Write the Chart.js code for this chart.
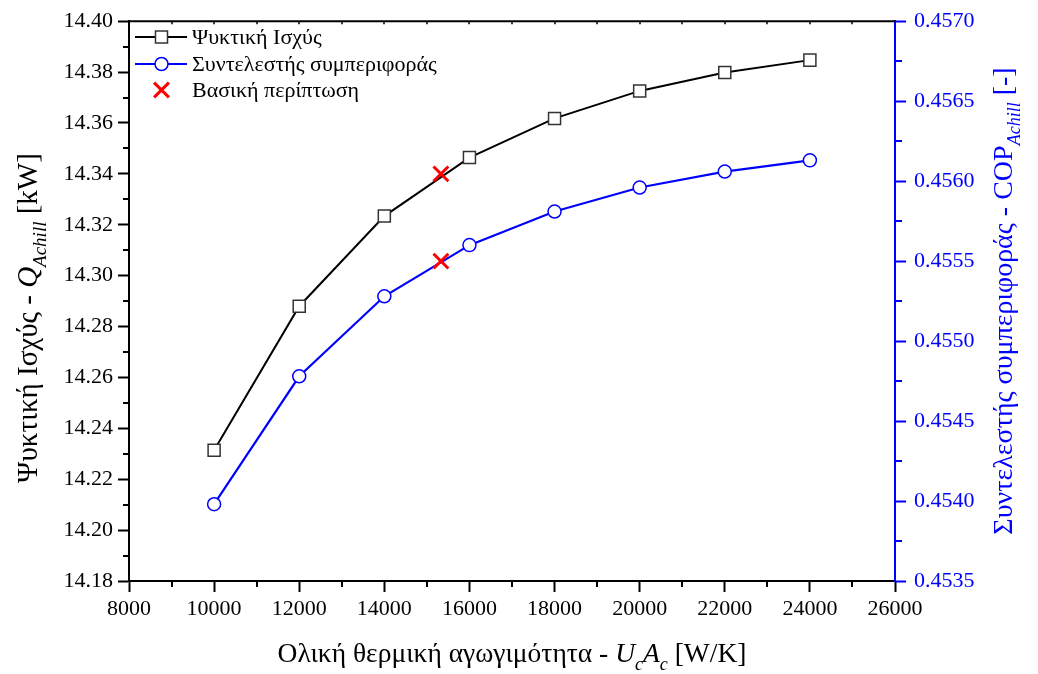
<!DOCTYPE html>
<html>
<head>
<meta charset="utf-8">
<script src="https://cdn.jsdelivr.net/npm/chart.js@4/dist/chart.umd.min.js"></script>
<style>
  html, body { margin: 0; padding: 0; background: #ffffff; }
  canvas { display: block; }
</style>
</head>
<body>
<canvas id="chart" width="1038" height="674"></canvas>
<script>
// Overall thermal conductance of the condenser, UcAc [W/K]
const uaValues = [10000, 12000, 14000, 16000, 18000, 20000, 22000, 24000];
// Cooling capacity Q_Achill [kW]
const coolingCapacity = [14.2314, 14.2880, 14.3234, 14.3464, 14.3618, 14.3726, 14.3798, 14.3847];
// Coefficient of performance COP_Achill [-]
const copValues = [0.45398, 0.45478, 0.45528, 0.45560, 0.45581, 0.45596, 0.45606, 0.45613];
// Base case
const baseCaseUA = [15330];
const baseCaseQ = [14.34];
const baseCaseCOP = [0.4555];

const seriesNames = ['Ψυκτική Ισχύς', 'Συντελεστής συμπεριφοράς', 'Βασική περίπτωση'];

// Axis ranges and tick steps
const xRange = { min: 8000, max: 26000, step: 2000 };
const qRange = { min: 14.18, max: 14.40, step: 0.02 };
const copRange = { min: 0.4535, max: 0.4570, step: 0.0005 };

const SERIF = '"Liberation Serif", "DejaVu Serif", serif';
const BLUE = '#0000ff';

const xTitle = [
  { t: 'Ολική θερμική αγωγιμότητα - ' },
  { t: 'U', i: true }, { t: 'c', i: true, sub: true },
  { t: 'A', i: true }, { t: 'c', i: true, sub: true },
  { t: ' [W/K]' }
];
const yTitle = [
  { t: 'Ψυκτική Ισχύς - ' },
  { t: 'Q', i: true }, { t: 'Achill', i: true, sub: true },
  { t: ' [kW]' }
];
const y1Title = [
  { t: 'Συντελεστής συμπεριφοράς - COP' },
  { t: 'Achill', i: true, sub: true },
  { t: ' [-]' }
];

function toPoints(xs, ys) {
  return xs.map((x, k) => ({ x: x, y: ys[k] }));
}

// Mixed-style text (italics, subscripts), centred on the current origin
function drawRich(ctx, segs, size) {
  const subSize = Math.round(size * 0.66);
  const fontOf = s => (s.i ? 'italic ' : '') + (s.sub ? subSize : size) + 'px ' + SERIF;
  let total = 0;
  segs.forEach(s => { ctx.font = fontOf(s); s.w = ctx.measureText(s.t).width; total += s.w; });
  let x = -total / 2;
  ctx.textAlign = 'left';
  ctx.textBaseline = 'alphabetic';
  segs.forEach(s => {
    ctx.font = fontOf(s);
    ctx.fillText(s.t, x, s.sub ? size * 0.3 : 0);
    x += s.w;
  });
}

function drawMarker(ctx, style, x, y, r, stroke, fill, lw) {
  ctx.save();
  ctx.lineWidth = lw;
  ctx.strokeStyle = stroke;
  ctx.fillStyle = fill;
  ctx.beginPath();
  if (style === 'rect') {
    const s = r * Math.SQRT1_2;
    ctx.rect(x - s, y - s, 2 * s, 2 * s);
    ctx.fill(); ctx.stroke();
  } else if (style === 'circle') {
    ctx.arc(x, y, r, 0, Math.PI * 2);
    ctx.fill(); ctx.stroke();
  } else if (style === 'crossRot') {
    const o = r * Math.SQRT1_2;
    ctx.moveTo(x - o, y - o); ctx.lineTo(x + o, y + o);
    ctx.moveTo(x - o, y + o); ctx.lineTo(x + o, y - o);
    ctx.stroke();
  }
  ctx.restore();
}

const framePlugin = {
  id: 'frame',
  afterDraw(chart) {
    const ctx = chart.ctx;
    const a = chart.chartArea;
    const sx = chart.scales.x, sy = chart.scales.y, sy1 = chart.scales.y1;
    ctx.save();

    // top frame line
    ctx.strokeStyle = '#000';
    ctx.lineWidth = 2;
    ctx.beginPath();
    ctx.moveTo(a.left - 1, a.top); ctx.lineTo(a.right, a.top);
    ctx.stroke();

    // minor ticks
    ctx.lineWidth = 2;
    for (let v = xRange.min + xRange.step / 2; v < xRange.max; v += xRange.step) {
      const px = Math.round(sx.getPixelForValue(v));
      ctx.beginPath(); ctx.moveTo(px, a.bottom); ctx.lineTo(px, a.bottom + 6); ctx.stroke();
    }
    ctx.lineWidth = 1.5;
    for (let v = xRange.min + xRange.step / 2; v < xRange.max; v += xRange.step / 2) {
      const px = Math.round(sx.getPixelForValue(v));
      ctx.beginPath(); ctx.moveTo(px, a.top); ctx.lineTo(px, a.top + 3); ctx.stroke();
    }
    ctx.lineWidth = 2;
    for (let k = 0; k < Math.round((qRange.max - qRange.min) / qRange.step); k++) {
      const py = Math.round(sy.getPixelForValue(qRange.min + (k + 0.5) * qRange.step));
      ctx.beginPath(); ctx.moveTo(a.left, py); ctx.lineTo(a.left - 6, py); ctx.stroke();
    }
    ctx.strokeStyle = BLUE;
    for (let k = 0; k < Math.round((copRange.max - copRange.min) / copRange.step); k++) {
      const py = Math.round(sy1.getPixelForValue(copRange.min + (k + 0.5) * copRange.step));
      ctx.beginPath(); ctx.moveTo(a.right, py); ctx.lineTo(a.right + 7, py); ctx.stroke();
    }

    // axis titles
    ctx.fillStyle = '#000';
    ctx.save();
    ctx.translate((a.left + a.right) / 2, 662);
    drawRich(ctx, xTitle, 27.5);
    ctx.restore();

    ctx.save();
    ctx.translate(37, 318);
    ctx.rotate(-Math.PI / 2);
    drawRich(ctx, yTitle, 29);
    ctx.restore();

    ctx.save();
    ctx.fillStyle = BLUE;
    ctx.translate(1012, 301);
    ctx.rotate(-Math.PI / 2);
    drawRich(ctx, y1Title, 28);
    ctx.restore();

    // legend
    const rows = [37, 64, 90];
    const entries = [chart.data.datasets[0], chart.data.datasets[1], chart.data.datasets[2]];
    ctx.font = '22px ' + SERIF;
    ctx.textAlign = 'left';
    ctx.textBaseline = 'middle';
    entries.forEach((ds, k) => {
      const y = rows[k];
      if (ds.showLine) {
        ctx.strokeStyle = ds.borderColor;
        ctx.lineWidth = ds.borderWidth;
        ctx.beginPath(); ctx.moveTo(135, y); ctx.lineTo(187, y); ctx.stroke();
      }
      drawMarker(ctx, ds.pointStyle, 161.5, y, ds.pointRadius, ds.pointBorderColor,
                 ds.pointBackgroundColor, ds.pointBorderWidth);
      ctx.fillStyle = '#000';
      ctx.fillText(seriesNames[k], 192, y + 1);
    });

    ctx.restore();
  }
};

const tickFont = { family: SERIF, size: 22 };

new Chart(document.getElementById('chart'), {
  type: 'scatter',
  data: {
    datasets: [
      {
        label: seriesNames[0],
        data: toPoints(uaValues, coolingCapacity),
        yAxisID: 'y',
        showLine: true,
        order: 1,
        borderColor: '#000000',
        borderWidth: 2,
        pointStyle: 'rect',
        pointRadius: 8.5,
        pointBorderWidth: 1.5,
        pointBorderColor: '#333333',
        pointBackgroundColor: '#ffffff'
      },
      {
        label: seriesNames[1],
        data: toPoints(uaValues, copValues),
        yAxisID: 'y1',
        showLine: true,
        order: 1,
        borderColor: BLUE,
        borderWidth: 2.2,
        pointStyle: 'circle',
        pointRadius: 6.5,
        pointBorderWidth: 1.5,
        pointBorderColor: BLUE,
        pointBackgroundColor: '#ffffff'
      },
      {
        label: seriesNames[2],
        data: toPoints(baseCaseUA, baseCaseQ),
        yAxisID: 'y',
        showLine: false,
        order: 0,
        pointStyle: 'crossRot',
        pointRadius: 10.5,
        pointBorderWidth: 3,
        pointBorderColor: '#ff0000',
        pointBackgroundColor: '#ff0000'
      },
      {
        label: seriesNames[2],
        data: toPoints(baseCaseUA, baseCaseCOP),
        yAxisID: 'y1',
        showLine: false,
        order: 0,
        pointStyle: 'crossRot',
        pointRadius: 10.5,
        pointBorderWidth: 3,
        pointBorderColor: '#ff0000',
        pointBackgroundColor: '#ff0000'
      }
    ]
  },
  options: {
    responsive: false,
    animation: false,
    events: [],
    layout: { padding: { top: 17, left: 0, right: 0, bottom: 0 } },
    plugins: { legend: { display: false }, tooltip: { enabled: false } },
    scales: {
      x: {
        type: 'linear',
        position: 'bottom',
        min: xRange.min, max: xRange.max,
        afterFit: s => { s.height = 93; },
        ticks: {
          stepSize: xRange.step, autoSkip: false, maxRotation: 0,
          color: '#000', font: tickFont, padding: 4,
          callback: v => String(v)
        },
        grid: { drawOnChartArea: false, drawTicks: true, tickLength: 11, tickWidth: 2, tickColor: '#000' },
        border: { display: true, color: '#000', width: 2 }
      },
      y: {
        type: 'linear',
        position: 'left',
        min: qRange.min, max: qRange.max,
        afterFit: s => { s.width = 129; },
        ticks: {
          stepSize: qRange.step, autoSkip: false,
          color: '#000', font: tickFont, padding: 5,
          callback: v => Number(v).toFixed(2)
        },
        grid: { drawOnChartArea: false, drawTicks: true, tickLength: 11, tickWidth: 2, tickColor: '#000' },
        border: { display: true, color: '#000', width: 2 }
      },
      y1: {
        type: 'linear',
        position: 'right',
        min: copRange.min, max: copRange.max,
        afterFit: s => { s.width = 143; },
        ticks: {
          stepSize: copRange.step, autoSkip: false,
          color: BLUE, font: tickFont, padding: 8,
          callback: v => Number(v).toFixed(4)
        },
        grid: { drawOnChartArea: false, drawTicks: true, tickLength: 11, tickWidth: 2, tickColor: BLUE },
        border: { display: true, color: BLUE, width: 2 }
      }
    }
  },
  plugins: [framePlugin]
});
</script>
</body>
</html>
